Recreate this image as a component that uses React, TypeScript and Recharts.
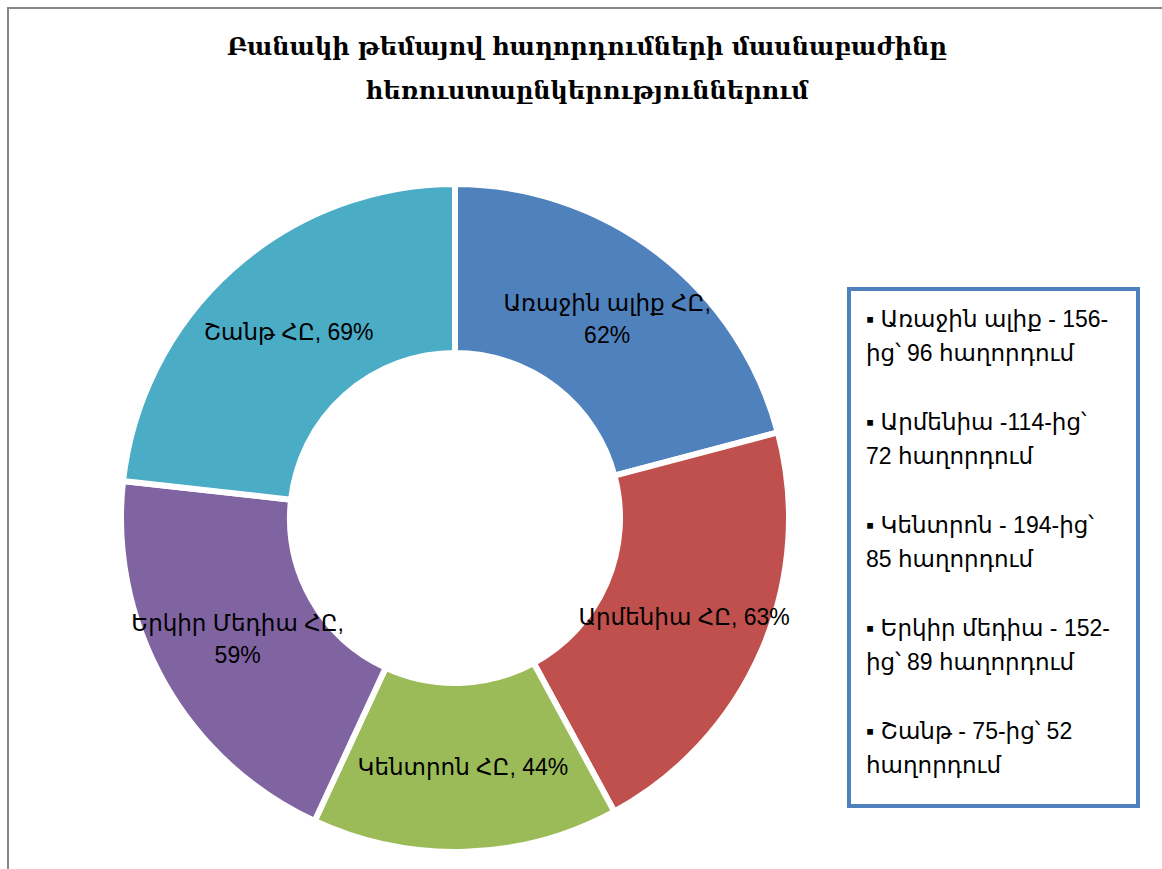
import React from 'react';
import { PieChart, Pie, Cell, Legend } from 'recharts';

const channels = ['Առաջին ալիք ՀԸ', 'Արմենիա ՀԸ', 'Կենտրոն ՀԸ', 'Երկիր Մեդիա ՀԸ', 'Շանթ ՀԸ'];
const shares = [62, 63, 44, 59, 69];
const legendLabels = [
  'Առաջին ալիք - 156-\nից՝ 96 հաղորդում',
  'Արմենիա -114-ից՝\n72 հաղորդում',
  'Կենտրոն - 194-ից՝\n85 հաղորդում',
  'Երկիր մեդիա - 152-\nից՝  89 հաղորդում',
  'Շանթ - 75-ից՝ 52\nհաղորդում',
];
const titleLines = ['Բանակի թեմայով հաղորդումների մասնաբաժինը', 'հեռուստաընկերություններում'];

const COLORS = ['#4F81BD', '#C0504D', '#9BBB59', '#8064A2', '#4BACC6'];
const FONT = "'Liberation Sans', 'DejaVu Sans', sans-serif";
const RADIAN = Math.PI / 180;

const data = channels.map((name, i) => ({ name, value: shares[i] }));

const renderLabel = (props: any) => {
  const { cx, cy, midAngle, innerRadius, outerRadius, index } = props;
  const r = (innerRadius + outerRadius) / 2;
  const x = cx + r * Math.cos(-midAngle * RADIAN);
  const y = cy + r * Math.sin(-midAngle * RADIAN);
  const name = channels[index];
  const pct = `${shares[index]}%`;
  const wrap = name.length > 10;
  return (
    <text x={x} y={y} textAnchor="middle" fill="#000" fontSize={23} fontFamily={FONT}>
      {wrap ? (
        <>
          <tspan x={x} dy={-9}>{`${name},`}</tspan>
          <tspan x={x} dy={32}>{pct}</tspan>
        </>
      ) : (
        <tspan x={x} dy={8}>{`${name}, ${pct}`}</tspan>
      )}
    </text>
  );
};

const renderLegend = () => (
  <div
    style={{
      boxSizing: 'border-box',
      width: 293,
      height: 521,
      border: '4px solid #4F81BD',
      background: '#fff',
      padding: '11px 4px 0 15px',
      fontFamily: FONT,
      fontSize: 23,
      lineHeight: '34px',
      color: '#000',
      textAlign: 'left',
      whiteSpace: 'pre-line',
    }}
  >
    {legendLabels.map((label, i) => (
      <div key={i} style={{ marginBottom: 35 }}>
        {'▪ ' + label}
      </div>
    ))}
  </div>
);

export default function App() {
  return (
    <div
      style={{
        position: 'absolute',
        left: 7,
        top: 7,
        width: 1153,
        height: 860,
        borderLeft: '2px solid #868686',
        borderTop: '2px solid #868686',
        background: '#fff',
        overflow: 'hidden',
      }}
    >
      <div
        style={{
          position: 'absolute',
          left: 0,
          top: 16,
          width: 1156,
          textAlign: 'center',
          fontFamily: "'DejaVu Serif', serif",
          fontWeight: 'bold',
          fontSize: 24,
          lineHeight: '44px',
          color: '#000',
          zIndex: 1,
        }}
      >
        {titleLines.map((t, i) => (
          <div key={i}>{t}</div>
        ))}
      </div>
      <PieChart width={1153} height={860} margin={{ top: 0, right: 0, bottom: 0, left: 0 }}>
        <Pie
          data={data}
          dataKey="value"
          nameKey="name"
          cx={446}
          cy={509}
          startAngle={90}
          endAngle={-270}
          innerRadius={165}
          outerRadius={334}
          stroke="#fff"
          strokeWidth={6}
          label={renderLabel}
          labelLine={false}
          isAnimationActive={false}
        >
          {data.map((entry, index) => (
            <Cell key={`cell-${index}`} fill={COLORS[index % COLORS.length]} />
          ))}
        </Pie>
        <Legend
          layout="vertical"
          align="right"
          verticalAlign="top"
          content={renderLegend}
          wrapperStyle={{ left: 838, top: 278, width: 293 }}
        />
      </PieChart>
    </div>
  );
}
